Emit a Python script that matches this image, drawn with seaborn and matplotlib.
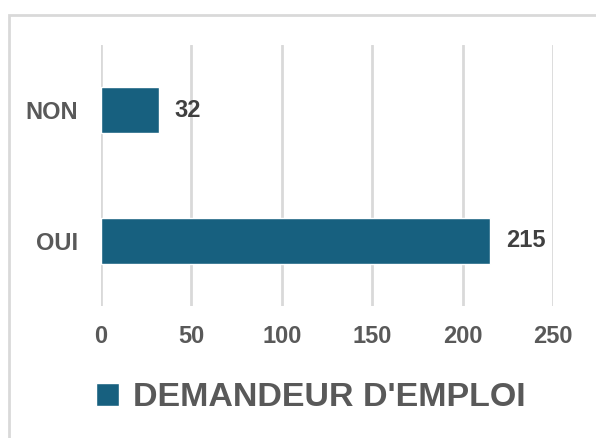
import matplotlib
matplotlib.use("Agg")
import matplotlib.pyplot as plt
import seaborn as sns
import pandas as pd
from matplotlib.patches import Rectangle

categories = ["NON", "OUI"]
values = [32, 215]
series_name = "DEMANDEUR D'EMPLOI"
xticks = [0, 50, 100, 150, 200, 250]

df = pd.DataFrame({"cat": categories, "val": values})

sns.set_theme(style="white")
plt.rcParams['font.family'] = ['Liberation Sans', 'DejaVu Sans']

W, H = 596, 438
fig = plt.figure(figsize=(W / 100, H / 100), dpi=100)
ax = fig.add_axes([101 / W, 1 - 306 / H, (553 - 101) / W, (306 - 45) / H])

bar_color = "#17607F"
sns.barplot(data=df, x="val", y="cat", orient="h", color=bar_color,
            width=0.35, ax=ax, saturation=1)

ax.set_xlim(0, 250)
ax.set_ylim(1.5, -0.5)
ax.set_xticks(xticks)
ax.set_xticklabels([str(t) for t in xticks])
ax.grid(axis="x", color="#D9D9D9", linewidth=2)
ax.set_axisbelow(True)
for s in ax.spines.values():
    s.set_visible(False)
ax.set_xlabel("")
ax.set_ylabel("")
ax.tick_params(axis="both", length=0, labelsize=17, labelcolor="#595959")
ax.tick_params(axis="x", pad=14)
ax.tick_params(axis="y", pad=16.5)
for lab in ax.get_xticklabels() + ax.get_yticklabels():
    lab.set_fontweight("bold")

for c in ax.containers:
    ax.bar_label(c, labels=[str(v) for v in values], padding=11.5,
                 fontsize=17, fontweight="bold", color="#404040")

leg = fig.legend(handles=ax.containers[0].patches[:1], labels=[series_name],
                 loc="center", bbox_to_anchor=(311 / W, 1 - 398 / H),
                 frameon=False, handlelength=0.68, handleheight=0.68,
                 handletextpad=0.4, prop={"size": 24.5, "weight": "bold"})
for t in leg.get_texts():
    t.set_color("#595959")

fig.patches.append(Rectangle((9 / W, -0.1), 1.2, 1 - 15 / H + 0.1,
                             transform=fig.transFigure, fill=False,
                             edgecolor="#D9D9D9", linewidth=2))

fig.savefig("out.png", dpi=100)
